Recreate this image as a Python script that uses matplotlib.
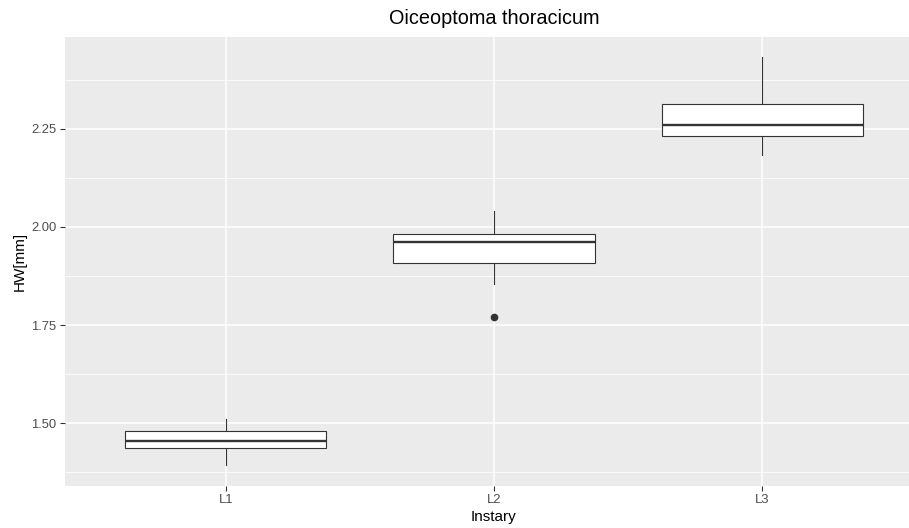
import matplotlib.pyplot as plt
import numpy as np

plt.rcParams['font.family'] = ['Liberation Sans', 'DejaVu Sans']

instars = ["L1", "L2", "L3"]
whisker_low = [1.393, 1.854, 2.184]
q1 = [1.437, 1.909, 2.230]
median = [1.456, 1.962, 2.258]
q3 = [1.480, 1.981, 2.313]
whisker_high = [1.510, 2.041, 2.432]
outliers = [[], [1.770], []]

stats = []
for i in range(len(instars)):
    stats.append({"label": instars[i], "whislo": whisker_low[i], "q1": q1[i],
                  "med": median[i], "q3": q3[i], "whishi": whisker_high[i],
                  "fliers": outliers[i]})

fig = plt.figure(figsize=(9.09, 5.28), dpi=100)
ax = fig.add_axes([65/909, 1-485.7/528, (923-65)/909, (485.7-36.7)/528])
ax.set_facecolor("#EBEBEB")

pos = np.arange(1, len(instars) + 1)
ax.bxp(stats, positions=pos, widths=0.75, showcaps=False, patch_artist=True,
       manage_ticks=False,
       boxprops=dict(facecolor="white", edgecolor="#333333", linewidth=0.8),
       whiskerprops=dict(color="#333333", linewidth=0.8),
       medianprops=dict(color="#333333", linewidth=1.7),
       flierprops=dict(marker="o", markerfacecolor="#333333", markeredgecolor="#333333",
                       markersize=4.5))

# grid, ggplot style
ax.set_ylim(1.341, 2.484)
ax.set_xlim(0.4, 3.6)
ax.set_yticks([1.50, 1.75, 2.00, 2.25])
ax.set_yticks([1.375, 1.625, 1.875, 2.125, 2.375], minor=True)
ax.set_yticklabels(["1.50", "1.75", "2.00", "2.25"])
ax.set_xticks(pos)
ax.set_xticklabels(instars)
ax.grid(which="major", color="white", linewidth=1.1)
ax.grid(which="minor", axis="y", color="white", linewidth=0.55)
ax.set_axisbelow(True)

for s in ax.spines.values():
    s.set_visible(False)
ax.tick_params(axis="both", which="major", colors="#333333", length=3.7, width=0.8,
               labelcolor="#4D4D4D", labelsize=9.4, pad=2.5)
ax.tick_params(axis="y", which="minor", length=0)

ax.set_xlabel("Instary", fontsize=11, labelpad=3)
ax.set_ylabel("HW[mm]", fontsize=11, labelpad=3)
fig.text(494/909, 1-18/528, "Oiceoptoma thoracicum", fontsize=14.3, ha="center", va="center")

fig.savefig("out.png", dpi=100)
